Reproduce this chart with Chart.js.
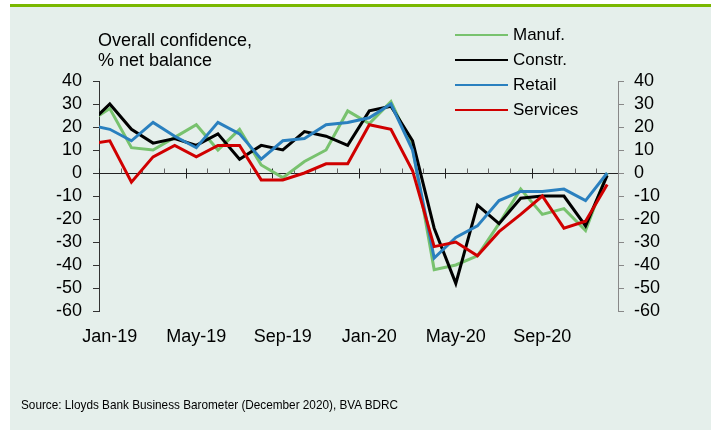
<!DOCTYPE html>
<html>
<head>
<meta charset="utf-8">
<script src="https://cdn.jsdelivr.net/npm/chart.js@4.4.1/dist/chart.umd.min.js"></script>
<style>
  html,body{margin:0;padding:0;background:#fff;}
  #frame{position:relative;width:711px;height:430px;overflow:hidden;background:#fff;
    font-family:"Liberation Sans",Arial,sans-serif;color:#000;}
  #panel{position:absolute;left:10px;top:7px;right:0;bottom:0;background:#E5EFEB;}
  #rule{position:absolute;left:10px;top:4px;right:0;height:3px;background:#7AB800;}
  #c{position:absolute;left:0;top:0;}
  #caption{position:absolute;left:98px;top:31px;font-size:18px;line-height:19.5px;white-space:nowrap;}
  #legend{position:absolute;left:455px;top:25px;font-size:17px;}
  #legend .row{height:25px;line-height:20px;display:flex;align-items:flex-start;white-space:nowrap;}
  #legend .key{display:inline-block;width:53px;height:2px;margin-top:9px;margin-right:5px;}
  #source{position:absolute;left:21px;top:397px;font-size:13px;line-height:15px;white-space:nowrap;
    transform:scaleX(0.905);transform-origin:0 0;}
</style>
</head>
<body>
<div id="frame">
  <div id="panel"></div>
  <div id="rule"></div>
  <canvas id="c" width="711" height="430"></canvas>
  <div id="caption">Overall confidence,<br>% net balance</div>
  <div id="legend"></div>
  <div id="source">Source: Lloyds Bank Business Barometer (December 2020), BVA BDRC</div>
</div>
<script>
// months Dec-18 .. Dec-20 ; Dec-18 only shows as the clipped stub at the left axis
const months = ["Dec-18","Jan-19","Feb-19","Mar-19","Apr-19","May-19","Jun-19","Jul-19","Aug-19","Sep-19","Oct-19","Nov-19","Dec-19",
  "Jan-20","Feb-20","Mar-20","Apr-20","May-20","Jun-20","Jul-20","Aug-20","Sep-20","Oct-20","Nov-20","Dec-20"];

const manuf    = [22, 28, 11, 10, 15.5, 21, 10, 19, 3.5, -2, 5, 10, 27, 21.5, 31, 11, -42, -40, -36, -22, -7, -18, -15.5, -25, 0];
const constr   = [21, 30, 19, 13, 15, 12, 17, 6, 12, 10, 18, 16, 12, 27, 29, 14, -24, -48, -14, -22, -11, -10, -10, -23, -1];
const retail   = [21, 19, 14, 22, 16, 11, 22, 17, 6, 14, 15, 21, 22, 24, 30, 10, -37, -28, -23, -12, -8, -8, -7, -12, 0];
const services = [12.5, 14, -4, 7, 12, 7, 12, 12, -3, -3, 0, 4, 4, 21, 19, 1, -32, -30, -36, -25.5, -18, -10, -24, -21, -5];

const xTickLabels = ["Jan-19","May-19","Sep-19","Jan-20","May-20","Sep-20"];
const xTickPos = xTickLabels.map(m => months.indexOf(m) - 1);

const FONT = '"Liberation Sans", Arial, sans-serif';

function pts(arr){ return arr.map((v,i)=>({x:i-1, y:v})); }

// x axis sits on zero; minor ticks above it, the 4-monthly ones cross it
const zeroAxis = {
  id:'zeroAxis',
  beforeDatasetsDraw(chart){
    const {ctx, chartArea:a, scales:{x,y}} = chart;
    const y0 = Math.round(y.getPixelForValue(0)) + 0.5;
    ctx.save();
    ctx.lineWidth = 1;
    ctx.strokeStyle = '#222';
    ctx.beginPath(); ctx.moveTo(a.left, y0); ctx.lineTo(a.right, y0); ctx.stroke();
    for(let k=1;k<months.length;k++){
      const px = Math.round(x.getPixelForValue(k-1.5)) + 0.5;
      const major = (k-1)%4===0;
      ctx.strokeStyle = major ? '#222' : '#666';
      ctx.beginPath();
      ctx.moveTo(px, y0-5);
      ctx.lineTo(px, major ? y0+5 : y0);
      ctx.stroke();
    }
    ctx.restore();
  }
};

const series = [
  {label:'Manuf.',   data:manuf,    color:'#78C26E', order:4},
  {label:'Constr.',  data:constr,   color:'#000000', order:3},
  {label:'Retail',   data:retail,   color:'#2A80BF', order:2},
  {label:'Services', data:services, color:'#D00000', order:1},
];

const chart = new Chart(document.getElementById('c'), {
  type:'line',
  data:{
    datasets: series.map(s=>({
      label:s.label, data:pts(s.data), borderColor:s.color, backgroundColor:s.color,
      borderWidth:3, pointRadius:0, tension:0, order:s.order, clip:0,
    })),
  },
  options:{
    responsive:false,
    animation:false,
    layout:{padding:{top:81,left:0,right:0,bottom:0}},
    plugins:{legend:{display:false}, tooltip:{enabled:false}},
    scales:{
      x:{
        type:'linear', position:'bottom', min:-0.5, max:23.5,
        grid:{display:false}, border:{display:false},
        afterBuildTicks(s){ s.ticks = xTickPos.map(v=>({value:v})); },
        ticks:{autoSkip:false, maxRotation:0, padding:7, color:'#000', font:{size:18, family:FONT},
          callback:(v,i)=>xTickLabels[i]},
        afterFit(s){ s.height = 119; },
      },
      y:{
        position:'left', min:-60, max:40,
        ticks:{stepSize:10, autoSkip:false, padding:11, color:'#000', font:{size:18, family:FONT}},
        grid:{display:true, drawOnChartArea:false, drawTicks:true, tickLength:6, color:'#333'},
        border:{display:true, color:'#333'},
        afterFit(s){ s.width = 99; },
      },
      y2:{
        position:'right', min:-60, max:40,
        ticks:{stepSize:10, autoSkip:false, padding:10, color:'#000', font:{size:18, family:FONT}},
        grid:{display:true, drawOnChartArea:false, drawTicks:true, tickLength:6, color:'#888'},
        border:{display:true, color:'#888'},
        afterFit(s){ s.width = 93; },
      },
    },
  },
  plugins:[zeroAxis],
});

// legend as real text
const legendEl = document.getElementById('legend');
chart.data.datasets.forEach(ds=>{
  const row = document.createElement('div');
  row.className = 'row';
  row.innerHTML = `<span class="key" style="background:${ds.borderColor}"></span><span>${ds.label}</span>`;
  legendEl.appendChild(row);
});
</script>
</body>
</html>
